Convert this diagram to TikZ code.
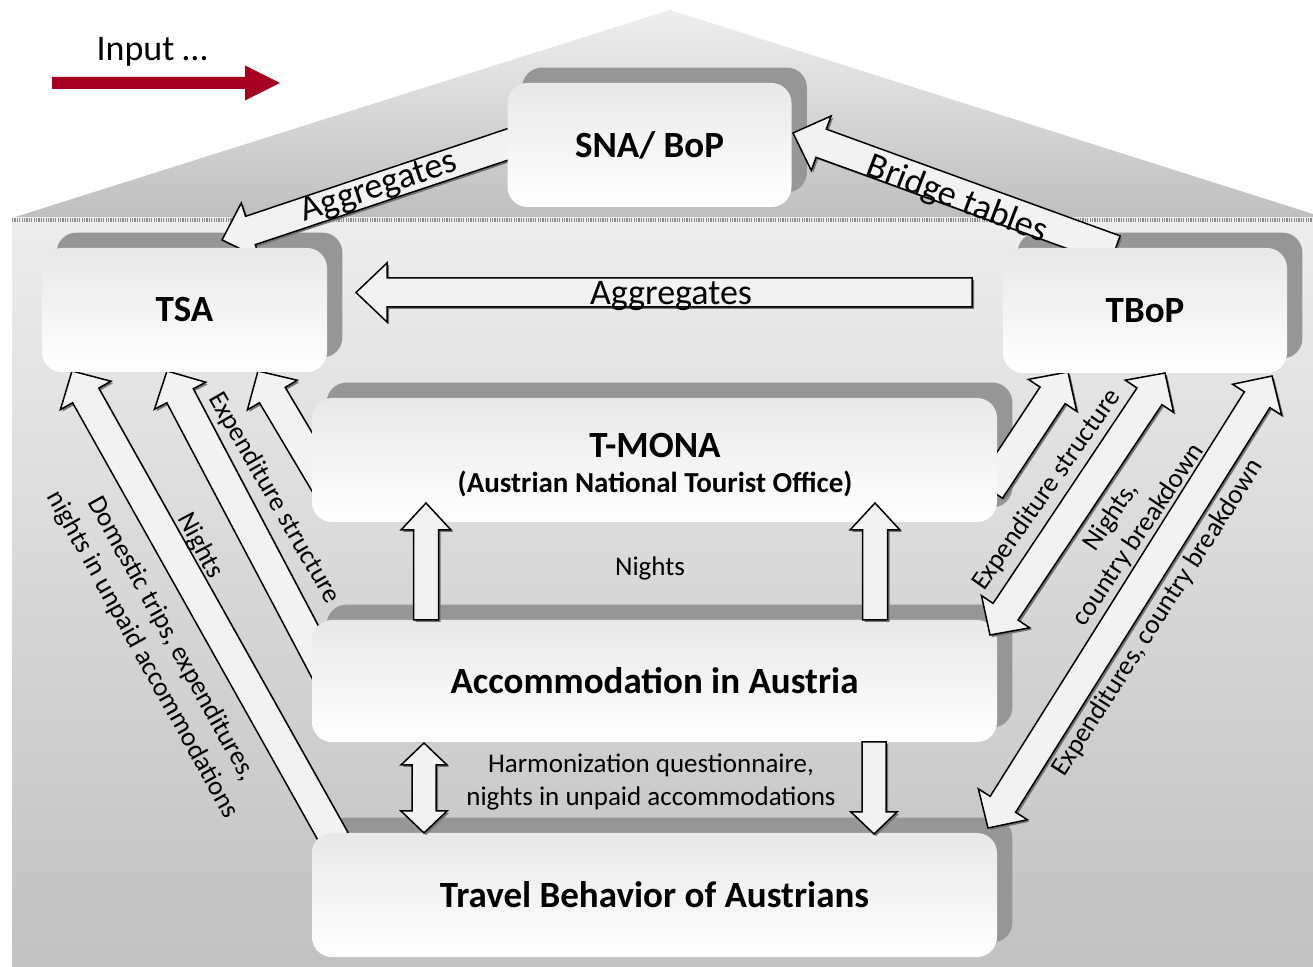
\documentclass[tikz,border=0pt]{standalone}
\usepackage{fontspec}
\setmainfont{Carlito}
\usetikzlibrary{calc}
\definecolor{shadowgray}{RGB}{150,150,150}
\definecolor{arrfill}{RGB}{242,242,242}
\definecolor{boxtop}{RGB}{232,232,232}
\definecolor{inred}{RGB}{166,0,33}
\definecolor{rooftop}{RGB}{238,238,238}
\definecolor{roofbot}{RGB}{190,190,190}
\definecolor{bodytop}{RGB}{237,237,237}
\definecolor{bodybot}{RGB}{193,193,193}
\pgfdeclarelayer{bg}\pgfdeclarelayer{shad}\pgfdeclarelayer{arr}
\pgfsetlayers{bg,shad,arr,main}
% style, tail, tip, shaft half width, head half width
\newcommand{\onepath}[5]{\path[#1] ($(#2)!#4!90:(#3)$) -- ($(hbA)!#4!90:(#3)$) -- ($(hbA)!#5!90:(#3)$) -- (#3) -- ($(hbA)!#5!-90:(#3)$) -- ($(hbA)!#4!-90:(#3)$) -- ($(#2)!#4!-90:(#3)$) -- cycle;}
\newcommand{\twopath}[5]{\path[#1] (#2) -- ($(hbB)!#5!90:(#3)$) -- ($(hbB)!#4!90:(#3)$) -- ($(hbA)!#4!90:(#3)$) -- ($(hbA)!#5!90:(#3)$) -- (#3) -- ($(hbA)!#5!-90:(#3)$) -- ($(hbA)!#4!-90:(#3)$) -- ($(hbB)!#4!-90:(#3)$) -- ($(hbB)!#5!-90:(#3)$) -- cycle;}
% tail, tip, shaft half, head half, head length
\newcommand{\onearr}[5]{%
  \coordinate (hbA) at ($(#2)!#5!(#1)$);
  \begin{scope}[transform canvas={shift={(1pt,-1pt)}}]\onepath{arrshadow}{#1}{#2}{#3}{#4}\end{scope}
  \onepath{arrstyle}{#1}{#2}{#3}{#4}}
\newcommand{\twoarr}[5]{%
  \coordinate (hbA) at ($(#2)!#5!(#1)$);
  \coordinate (hbB) at ($(#1)!#5!(#2)$);
  \begin{scope}[transform canvas={shift={(1pt,-1pt)}}]\twopath{arrshadow}{#1}{#2}{#3}{#4}\end{scope}
  \twopath{arrstyle}{#1}{#2}{#3}{#4}}
\begin{document}
\begin{tikzpicture}[x=0.5pt,y=-0.5pt,
  arrstyle/.style={draw=black, fill=arrfill, line width=0.75pt, line join=miter},
  arrshadow/.style={fill=black!55},
  box/.style={rounded corners=10pt, top color=boxtop, bottom color=white, inner sep=0pt,
    font=\fontsize{18.5}{22}\selectfont\bfseries},
  titletext/.style={inner sep=0pt, font=\fontsize{18.5}{22}\selectfont\bfseries},
  subtext/.style={inner sep=0pt, font=\fontsize{14.5}{17}\selectfont\bfseries},
  lab/.style={inner sep=0pt, align=center, font=\fontsize{13.5}{16.5}\selectfont},
  biglab/.style={inner sep=0pt, font=\fontsize{18}{21}\selectfont}]
\useasboundingbox (0,0) rectangle (1313,967);
% ---------- background house ----------
\begin{pgfonlayer}{bg}
  \fill[white] (0,0) rectangle (1313,967);
  \shade[top color=rooftop, bottom color=roofbot] (12,218) -- (670,10) -- (1313,214) -- (1313,218) -- cycle;
  \shade[top color=bodytop, bottom color=bodybot] (12,218) rectangle (1313,967);
  \draw[black!45, line width=1.6pt, dash pattern=on 0.6pt off 0.6pt] (12,220) -- (1313,220);
\end{pgfonlayer}
% ---------- input legend ----------
\node[biglab] (inputlab) at (152,52) {Input …};
\coordinate (in1) at (52,83);
\coordinate (in2) at (280,83);
\coordinate (hbA) at ($(in2)!17.5pt!(in1)$);
\onepath{fill=inred}{in1}{in2}{3pt}{8.75pt}
% ---------- boxes ----------
\node[box, minimum width=142pt, minimum height=62pt] (sna) at (649.5,145) {SNA/ BoP};
\node[box, minimum width=142.5pt, minimum height=62pt] (tsa) at (184.5,310) {TSA};
\node[box, minimum width=142pt, minimum height=62.5pt] (tbop) at (1145,310.5) {TBoP};
\node[box, minimum width=342.5pt, minimum height=62pt] (tmona) at (654.5,460) {};
\node[box, minimum width=342.5pt, minimum height=61pt] (accom) at (654.5,681) {Accommodation in Austria};
\node[box, minimum width=342.5pt, minimum height=62pt] (travel) at (654.5,895) {Travel Behavior of Austrians};
\node[titletext] (tmonat) at (655,445) {T-MONA};
\node[subtext] (tmonas) at (655,484) {(Austrian National Tourist Office)};
% ---------- shadows ----------
\begin{pgfonlayer}{shad}
  \foreach \n in {sna,tsa,tbop,tmona,accom,travel}{
    \fill[shadowgray, rounded corners=10pt] ([shift={(7.5pt,7.5pt)}]\n.south west) rectangle ([shift={(7.5pt,7.5pt)}]\n.north east);}
\end{pgfonlayer}
% ---------- arrows under the boxes ----------
\begin{pgfonlayer}{arr}
  \coordinate (a1s) at (515,142);  \coordinate (a1e) at (222,240);
  \onearr{a1s}{a1e}{7.5pt}{14.5pt}{15pt}
  \coordinate (brs) at (1115,250); \coordinate (bre) at (793,133);
  \onearr{brs}{bre}{7.5pt}{14.5pt}{15pt}
  \coordinate (ags) at (972,292.5); \coordinate (age) at (356,292.5);
  \onearr{ags}{age}{7.25pt}{14.75pt}{15.5pt}
  \coordinate (l1s) at (335,840);  \coordinate (l1e) at (72,371);
  \onearr{l1s}{l1e}{7.5pt}{14.5pt}{14pt}
  \coordinate (l2s) at (330,680);  \coordinate (l2e) at (167,371);
  \onearr{l2s}{l2e}{7.5pt}{14.5pt}{14pt}
  \coordinate (l3s) at (330,492);  \coordinate (l3e) at (258,371);
  \onearr{l3s}{l3e}{7.5pt}{14.5pt}{14pt}
  \coordinate (r1s) at (990,490);  \coordinate (r1e) at (1068,372);
  \onearr{r1s}{r1e}{7.5pt}{14.5pt}{14pt}
\end{pgfonlayer}
% ---------- arrows over the boxes ----------
\coordinate (r2s) at (990,635);  \coordinate (r2e) at (1165,373);
\twoarr{r2s}{r2e}{7.5pt}{14.5pt}{14pt}
\coordinate (r3s) at (988,828);  \coordinate (r3e) at (1272,376);
\twoarr{r3s}{r3e}{7.5pt}{14.5pt}{14pt}
\coordinate (u1s) at (426,620);  \coordinate (u1e) at (426,503);
\onearr{u1s}{u1e}{6.25pt}{12.5pt}{13.5pt}
\coordinate (u2s) at (875,620);  \coordinate (u2e) at (875,503);
\onearr{u2s}{u2e}{6.25pt}{12.5pt}{13.5pt}
\coordinate (d1s) at (424,743);  \coordinate (d1e) at (424,833);
\twoarr{d1s}{d1e}{6pt}{11.5pt}{11pt}
\coordinate (d2s) at (874,742);  \coordinate (d2e) at (874,834);
\onearr{d2s}{d2e}{6pt}{11.5pt}{11pt}
% ---------- labels ----------
\node[biglab, rotate=18.5] (lagg1) at (379,188) {Aggregates};
\node[biglab, anchor=base] (lagg2) at (671,305) {Aggregates};
\node[biglab, rotate=-21] (lbridge) at (957,200) {Bridge tables};
\node[lab, rotate=-60] (lexp1) at (274,498) {Expenditure structure};
\node[lab, rotate=-62] (lnights1) at (200,546) {Nights};
\node[lab, rotate=-61] (ldom) at (157,647) {Domestic trips, expenditures,\\nights in unpaid accommodations};
\node[lab] (lnights2) at (650,568) {Nights};
\node[lab] (lharm) at (651,782) {Harmonization questionnaire,\\nights in unpaid accommodations};
\node[lab, rotate=55] (lexp2) at (1047,490) {Expenditure structure};
\node[lab, rotate=56] (lnights3) at (1125,526) {Nights,\\country breakdown};
\node[lab, rotate=57.5] (lexp3) at (1158,618) {Expenditures, country breakdown};
\end{tikzpicture}
\end{document}
